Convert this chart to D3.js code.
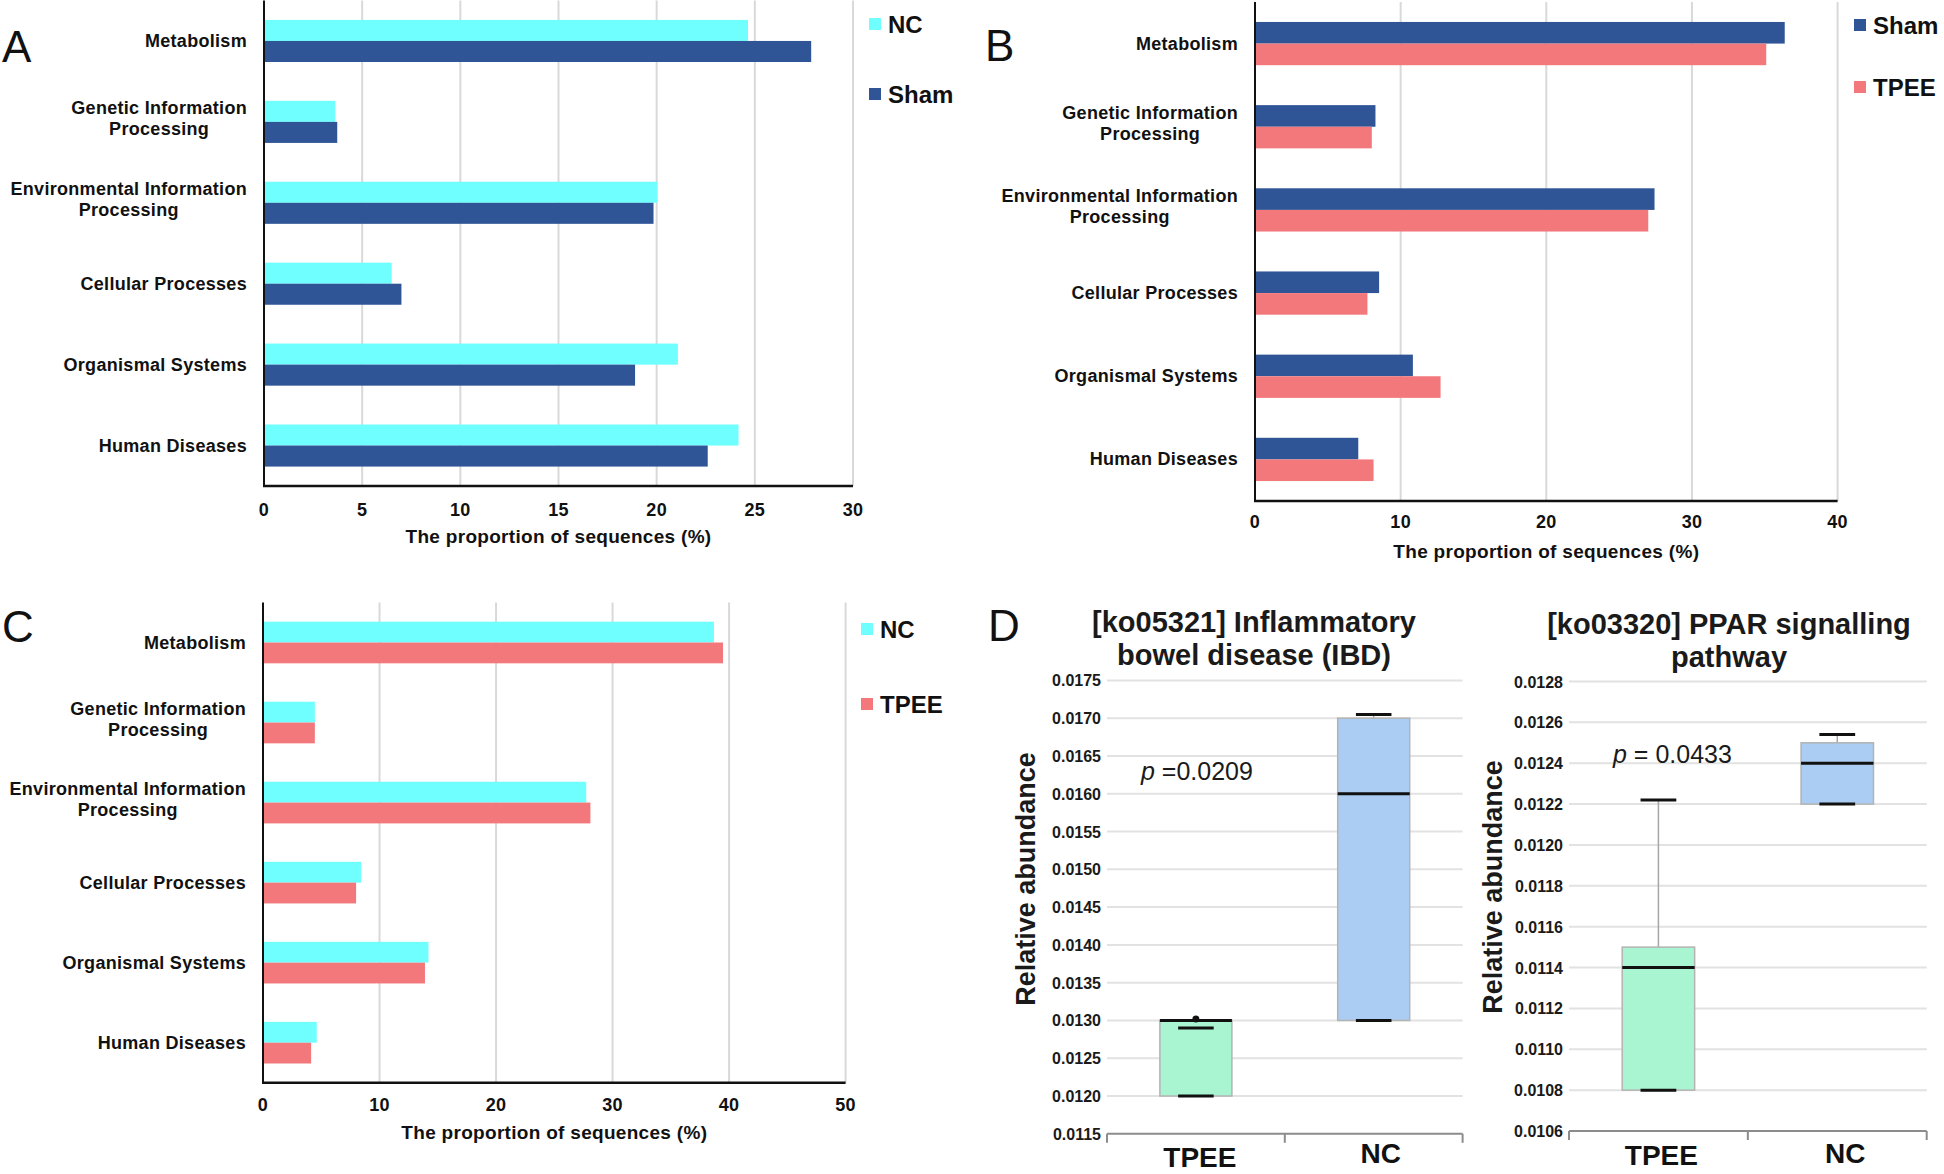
<!DOCTYPE html>
<html>
<head>
<meta charset="utf-8">
<script src="https://cdn.jsdelivr.net/npm/d3@7"></script>
<style>
  html, body { margin: 0; padding: 0; background: #ffffff; }
  svg { display: block; }
  text { font-family: "Liberation Sans", Arial, sans-serif; }
</style>
</head>
<body>
<svg id="chart" width="1944" height="1174"></svg>
<script>
// ---------------- DATA ----------------
const categories = [
  "Metabolism",
  "Genetic Information Processing",
  "Environmental Information Processing",
  "Cellular Processes",
  "Organismal Systems",
  "Human Diseases"
];

// Panel A : NC vs Sham
const panelA_NC   = [24.65, 3.63, 20.03, 6.50, 21.08, 24.17];
const panelA_Sham = [27.87, 3.73, 19.84, 7.00, 18.90, 22.60];
const ticksA = [0, 5, 10, 15, 20, 25, 30];

// Panel B : Sham vs TPEE
const panelB_Sham = [36.37, 8.27, 27.43, 8.52, 10.84, 7.09];
const panelB_TPEE = [35.10, 8.02, 27.00, 7.72, 12.74, 8.14];
const ticksB = [0, 10, 20, 30, 40];

// Panel C : NC vs TPEE
const panelC_NC   = [38.70, 4.45, 27.74, 8.42, 14.20, 4.61];
const panelC_TPEE = [39.48, 4.45, 28.10, 7.99, 13.90, 4.13];
const ticksC = [0, 10, 20, 30, 40, 50];

const xAxisTitle = "The proportion of sequences (%)";

// Panel D : box plots
const boxGroups = ["TPEE", "NC"];
const ibdTitle = ["[ko05321] Inflammatory", "bowel disease (IBD)"];
const ibdStats = [
  { group: "TPEE", low: 0.0120, q1: 0.0120, median: 0.0130, q3: 0.0130, high: 0.0129, outliers: [0.01302] },
  { group: "NC",   low: 0.0130, q1: 0.0130, median: 0.0160, q3: 0.0170, high: 0.01705, outliers: [] }
];
const ibdTicks = [0.0115, 0.0120, 0.0125, 0.0130, 0.0135, 0.0140, 0.0145, 0.0150, 0.0155, 0.0160, 0.0165, 0.0170, 0.0175];
const ibdP = "0.0209";

const pparTitle = ["[ko03320] PPAR signalling", "pathway"];
const pparStats = [
  { group: "TPEE", low: 0.0108, q1: 0.0108, median: 0.0114, q3: 0.0115, high: 0.01222, outliers: [] },
  { group: "NC",   low: 0.0122, q1: 0.0122, median: 0.0124, q3: 0.0125, high: 0.01254, outliers: [] }
];
const pparTicks = [0.0106, 0.0108, 0.0110, 0.0112, 0.0114, 0.0116, 0.0118, 0.0120, 0.0122, 0.0124, 0.0126, 0.0128];
const pparP = "0.0433";

const COLORS = { NC: "#6FFFFF", Sham: "#2F5597", TPEE: "#F3787C", boxTPEE: "#A9F5D1", boxNC: "#ABCDF3" };

// ---------------- DRAW ----------------
const svg = d3.select("#chart");
svg.append("rect").attr("width", 1944).attr("height", 1174).attr("fill", "#fff");

function wrapLabel(s) {
  const i = s.indexOf(" Processing");
  if (i > 0) return [s.slice(0, i), s.slice(i + 1)];
  return [s];
}

function barPanel(cfg) {
  const g = svg.append("g");
  const x = d3.scaleLinear().domain([0, cfg.max]).range([cfg.x0, cfg.x1]);
  const y = d3.scaleBand().domain(categories).range([cfg.yTop, cfg.yBot]).paddingInner(0.48).paddingOuter(0.24);
  const names = cfg.series.map(s => s.name);
  const ys = d3.scaleBand().domain(names).range([0, y.bandwidth()]);

  // gridlines
  g.append("g").selectAll("line").data(cfg.ticks.filter(t => t > 0)).join("line")
    .attr("x1", d => x(d)).attr("x2", d => x(d))
    .attr("y1", cfg.yTop).attr("y2", cfg.yBot)
    .attr("stroke", "#d9d9d9").attr("stroke-width", 2);

  // bars
  cfg.series.forEach(s => {
    g.append("g").selectAll("rect").data(categories).join("rect")
      .attr("x", x(0))
      .attr("y", d => y(d) + ys(s.name))
      .attr("width", (d, i) => x(s.values[i]) - x(0))
      .attr("height", ys.bandwidth())
      .attr("fill", s.color);
  });

  // axes lines
  g.append("line").attr("x1", x(0)).attr("x2", x(0)).attr("y1", cfg.yTop).attr("y2", cfg.yBot + 1)
    .attr("stroke", "#111").attr("stroke-width", 2);
  g.append("line").attr("x1", x(0) - 1).attr("x2", x(cfg.max)).attr("y1", cfg.yBot).attr("y2", cfg.yBot)
    .attr("stroke", "#111").attr("stroke-width", 2.5);

  // tick labels
  g.append("g").selectAll("text").data(cfg.ticks).join("text")
    .attr("x", d => x(d)).attr("y", cfg.tickY)
    .attr("text-anchor", "middle").attr("font-size", 18).attr("font-weight", "bold")
    .attr("letter-spacing", 0.3).attr("fill", "#111")
    .text(d => d);

  // axis title
  g.append("text").attr("x", (x(0) + x(cfg.max)) / 2).attr("y", cfg.titleY)
    .attr("text-anchor", "middle").attr("font-size", 19).attr("font-weight", "bold")
    .attr("letter-spacing", 0.3).attr("fill", "#111").text(xAxisTitle);

  // category labels
  const right = x(0) - 17;
  categories.forEach(c => {
    const lines = wrapLabel(c);
    const cy = y(c) + y.bandwidth() / 2;
    const tg = g.append("g");
    const texts = lines.map((ln, k) => tg.append("text")
      .attr("font-size", 18).attr("font-weight", "bold").attr("letter-spacing", 0.3)
      .attr("fill", "#111")
      .attr("text-anchor", "middle")
      .attr("y", lines.length === 1 ? cy + 6 : cy - 8 + k * 21)
      .text(ln));
    const w = d3.max(texts, t => t.node().getComputedTextLength());
    texts.forEach(t => t.attr("x", right - w / 2));
  });

  // legend
  cfg.series.forEach((s, k) => {
    const ly = cfg.legend.ys[k];
    g.append("rect").attr("x", cfg.legend.x).attr("y", ly - 6).attr("width", 12).attr("height", 12).attr("fill", s.color);
    g.append("text").attr("x", cfg.legend.x + 19).attr("y", ly + 9)
      .attr("font-size", 24).attr("font-weight", "bold").attr("fill", "#111").text(s.name);
  });

  // panel letter
  g.append("text").attr("x", cfg.letter.x).attr("y", cfg.letter.y)
    .attr("font-size", 44).attr("fill", "#111").text(cfg.letter.text);
}

barPanel({
  x0: 264, x1: 853, yTop: 0.5, yBot: 486, max: 30, ticks: ticksA,
  series: [{ name: "NC", color: COLORS.NC, values: panelA_NC }, { name: "Sham", color: COLORS.Sham, values: panelA_Sham }],
  tickY: 516, titleY: 543,
  legend: { x: 869, ys: [24, 94] },
  letter: { x: 2, y: 62, text: "A" }
});

barPanel({
  x0: 1255, x1: 1837.6, yTop: 2, yBot: 501, max: 40, ticks: ticksB,
  series: [{ name: "Sham", color: COLORS.Sham, values: panelB_Sham }, { name: "TPEE", color: COLORS.TPEE, values: panelB_TPEE }],
  tickY: 528, titleY: 558,
  legend: { x: 1854, ys: [25, 87] },
  letter: { x: 985, y: 61, text: "B" }
});

barPanel({
  x0: 263, x1: 845.6, yTop: 602.5, yBot: 1082.7, max: 50, ticks: ticksC,
  series: [{ name: "NC", color: COLORS.NC, values: panelC_NC }, { name: "TPEE", color: COLORS.TPEE, values: panelC_TPEE }],
  tickY: 1111, titleY: 1139,
  legend: { x: 861, ys: [629, 704] },
  letter: { x: 2, y: 642, text: "C" }
});

function boxPanel(cfg) {
  const g = svg.append("g");
  const y = d3.scaleLinear().domain(cfg.domain).range([cfg.yBot, cfg.yTop]);
  const x = d3.scaleBand().domain(boxGroups).range([cfg.xL, cfg.xR]).paddingInner(0).paddingOuter(0);
  const bw = x.bandwidth() * 0.405;
  const cw = x.bandwidth() * 0.2;

  // gridlines
  g.append("g").selectAll("line").data(cfg.ticks.slice(1)).join("line")
    .attr("x1", cfg.xL).attr("x2", cfg.xR).attr("y1", d => y(d)).attr("y2", d => y(d))
    .attr("stroke", "#e2e2e2").attr("stroke-width", 2);

  // tick labels
  g.append("g").selectAll("text").data(cfg.ticks).join("text")
    .attr("x", cfg.xL - 6).attr("y", d => y(d) + 6)
    .attr("text-anchor", "end").attr("font-size", 16).attr("font-weight", "bold").attr("fill", "#1a1a1a")
    .text(d => d3.format(".4f")(d));

  // bottom axis
  g.append("line").attr("x1", cfg.xL).attr("x2", cfg.xR).attr("y1", cfg.yBot).attr("y2", cfg.yBot)
    .attr("stroke", "#8c8c8c").attr("stroke-width", 2);
  const bounds = [cfg.xL, x("NC"), cfg.xR];
  g.append("g").selectAll("line").data(bounds).join("line")
    .attr("x1", d => d).attr("x2", d => d).attr("y1", cfg.yBot).attr("y2", cfg.yBot + 9)
    .attr("stroke", "#8c8c8c").attr("stroke-width", 2);

  // boxes
  cfg.stats.forEach(s => {
    const cx = x(s.group) + x.bandwidth() / 2;
    const fill = s.group === "TPEE" ? COLORS.boxTPEE : COLORS.boxNC;
    g.append("line").attr("x1", cx).attr("x2", cx).attr("y1", y(Math.max(s.q3, s.high))).attr("y2", y(s.q3))
      .attr("stroke", "#a6a6a6").attr("stroke-width", 1.5);
    g.append("rect").attr("x", cx - bw / 2).attr("y", y(s.q3)).attr("width", bw).attr("height", y(s.q1) - y(s.q3))
      .attr("fill", fill).attr("stroke", "#b3b3b3").attr("stroke-width", 1.5);
    [s.low, s.high].forEach(v => {
      g.append("line").attr("x1", cx - cw / 2).attr("x2", cx + cw / 2).attr("y1", y(v)).attr("y2", y(v))
        .attr("stroke", "#111").attr("stroke-width", 3);
    });
    g.append("line").attr("x1", cx - bw / 2).attr("x2", cx + bw / 2).attr("y1", y(s.median)).attr("y2", y(s.median))
      .attr("stroke", "#111").attr("stroke-width", 3);
    s.outliers.forEach(v => {
      g.append("circle").attr("cx", cx).attr("cy", y(v)).attr("r", 3.5).attr("fill", "#111");
    });
  });

  // category labels
  cfg.catLabels.forEach((c, i) => {
    g.append("text").attr("x", x(boxGroups[i]) + x.bandwidth() / 2 + c.dx).attr("y", c.y)
      .attr("text-anchor", "middle").attr("font-size", 28).attr("font-weight", "bold").attr("fill", "#111")
      .text(boxGroups[i]);
  });

  // title
  cfg.title.forEach((t, k) => {
    g.append("text").attr("x", cfg.titleX).attr("y", cfg.titleY + k * 33)
      .attr("text-anchor", "middle").attr("font-size", 29).attr("font-weight", "bold").attr("fill", "#1a1a1a").text(t);
  });

  // y title
  g.append("text").attr("transform", `translate(${cfg.yTitle[0]},${cfg.yTitle[1]}) rotate(-90)`)
    .attr("text-anchor", "middle").attr("font-size", 27).attr("font-weight", "bold").attr("fill", "#1a1a1a")
    .attr("dy", "0.35em").text("Relative abundance");

  // p-value
  const pt = g.append("text").attr("x", cfg.p.x).attr("y", cfg.p.y).attr("font-size", 25).attr("fill", "#1a1a1a");
  pt.append("tspan").attr("font-style", "italic").text("p");
  pt.append("tspan").text(cfg.p.sep + cfg.p.value);
}

boxPanel({
  domain: [0.0115, 0.0175], yBot: 1133.8, yTop: 680.4, xL: 1107, xR: 1462.6,
  ticks: ibdTicks, stats: ibdStats, title: ibdTitle, titleX: 1254, titleY: 632,
  yTitle: [1026, 879],
  catLabels: [{ dx: 4, y: 1167 }, { dx: 7, y: 1163 }],
  p: { x: 1141, y: 780, sep: " =", value: ibdP }
});

boxPanel({
  domain: [0.0106, 0.0128], yBot: 1131, yTop: 681.5, xL: 1569, xR: 1926.7,
  ticks: pparTicks, stats: pparStats, title: pparTitle, titleX: 1729, titleY: 634,
  yTitle: [1493, 887],
  catLabels: [{ dx: 3, y: 1165 }, { dx: 8, y: 1163 }],
  p: { x: 1613, y: 763, sep: " = ", value: pparP }
});

svg.append("text").attr("x", 988).attr("y", 641).attr("font-size", 44).attr("fill", "#111").text("D");
</script>
</body>
</html>
